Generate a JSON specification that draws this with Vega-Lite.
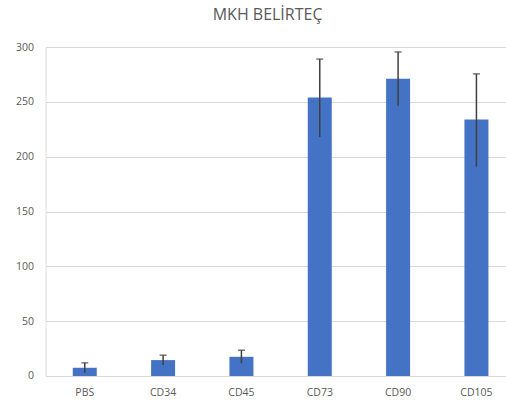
{
  "$schema": "https://vega.github.io/schema/vega-lite/v6.json",
  "autosize": {"type": "none"},
  "padding": {"left": 45.6, "top": 47, "right": 0, "bottom": 31},
  "width": 470,
  "height": 329,
  "background": "white",
  "title": {
    "text": "MKH BELİRTEÇ",
    "font": "Open Sans",
    "fontSize": 16,
    "fontWeight": "normal",
    "color": "#595959",
    "anchor": "middle",
    "dx": -13,
    "offset": 19
  },
  "data": {
    "values": [
      {"marker": "PBS", "value": 7.5, "low": 3, "high": 12},
      {"marker": "CD34", "value": 14.5, "low": 10, "high": 19},
      {"marker": "CD45", "value": 17.5, "low": 11.5, "high": 23.5},
      {"marker": "CD73", "value": 254, "low": 218, "high": 289},
      {"marker": "CD90", "value": 271, "low": 246.5, "high": 295.5},
      {"marker": "CD105", "value": 234, "low": 191, "high": 275.5}
    ]
  },
  "encoding": {
    "x": {
      "field": "marker",
      "type": "nominal",
      "sort": null,
      "scale": {"paddingInner": 0, "paddingOuter": 0},
      "axis": {
        "title": null,
        "labelAngle": 0,
        "labelFont": "Open Sans",
        "labelFontSize": 10.5,
        "labelColor": "#595959",
        "labelPadding": 12,
        "ticks": false,
        "domainColor": "#d9d9d9",
        "domainWidth": 1
      }
    }
  },
  "layer": [
    {
      "mark": {"type": "bar", "color": "#4472C4", "width": 24},
      "encoding": {
        "y": {
          "field": "value",
          "type": "quantitative",
          "scale": {"domain": [0, 300], "nice": false},
          "axis": {
            "title": null,
            "values": [0, 50, 100, 150, 200, 250, 300],
            "labelFont": "Open Sans",
            "labelFontSize": 10.5,
            "labelColor": "#595959",
            "labelPadding": 12,
            "ticks": false,
            "domain": false,
            "gridColor": "#d9d9d9",
            "gridWidth": 1
          }
        }
      }
    },
    {
      "mark": {"type": "rule", "color": "#404040", "strokeWidth": 1.5},
      "encoding": {
        "y": {"field": "low", "type": "quantitative"},
        "y2": {"field": "high"}
      }
    },
    {
      "mark": {"type": "tick", "color": "#404040", "thickness": 1.5, "size": 7, "orient": "horizontal"},
      "encoding": {
        "y": {"field": "high", "type": "quantitative"}
      }
    }
  ]
}
